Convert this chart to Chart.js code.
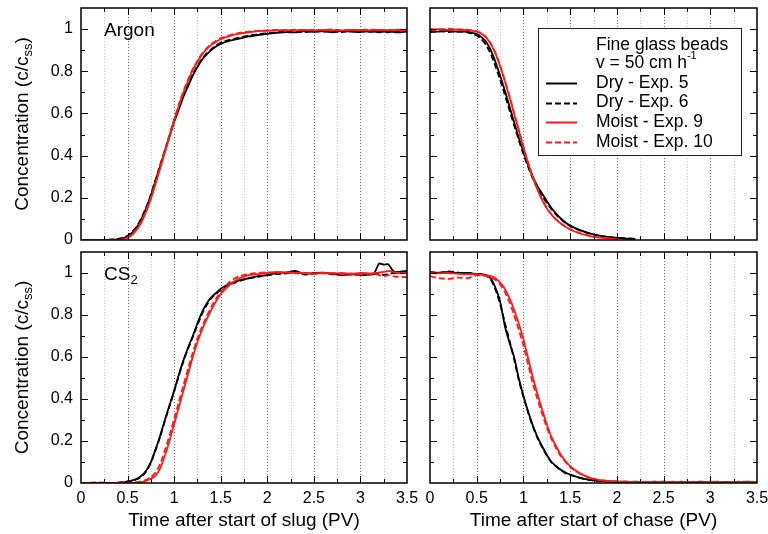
<html>
  <head>
    <title>Breakthrough curves</title>
  </head>
  <body>
    <div class="figure">
      <canvas id="chart-argon-slug" width="420" height="248"></canvas>
      <canvas id="chart-argon-chase" width="348" height="248"></canvas>
      <canvas id="chart-cs2-slug" width="420" height="286"></canvas>
      <canvas id="chart-cs2-chase" width="348" height="286"></canvas>
    </div>

    <style>
      body {
        margin: 0;
        background: #fff;
      }

      .figure {
        position: relative;
        width: 768px;
        height: 534px;
      }

      .figure canvas {
        position: absolute;
      }

      #chart-argon-slug { left: 0; top: 0; }
      #chart-argon-chase { left: 420px; top: 0; }
      #chart-cs2-slug { left: 0; top: 248px; }
      #chart-cs2-chase { left: 420px; top: 248px; }
    </style>

    <script src="https://cdn.jsdelivr.net/npm/chart.js@4"></script>
    <script type="text/javascript">
      const FONT = '"Liberation Sans", Arial, Helvetica, sans-serif';

      const xTicks = [0, 0.5, 1, 1.5, 2, 2.5, 3, 3.5];
      const xMinor = [0.25, 0.5, 0.75, 1, 1.25, 1.5, 1.75, 2, 2.25, 2.5, 2.75, 3, 3.25];
      const yTicks = [0, 0.2, 0.4, 0.6, 0.8, 1];
      const yMinor = [0.1, 0.2, 0.3, 0.4, 0.5, 0.6, 0.7, 0.8, 0.9, 1];

      const seriesNames = ['Dry - Exp. 5', 'Dry - Exp. 6', 'Moist - Exp. 9', 'Moist - Exp. 10'];
      const seriesColors = ['#000000', '#000000', '#ff1a1a', '#ff1a1a'];
      const seriesDash = [[], [6, 3], [], [6, 3]];

      // time in pore volumes
      const timeX = [0, 0.1, 0.2, 0.3, 0.4, 0.45, 0.5, 0.55, 0.6, 0.65, 0.7, 0.75, 0.8, 0.85, 0.9, 0.95,
        1, 1.05, 1.1, 1.15, 1.2, 1.25, 1.3, 1.35, 1.4, 1.45, 1.5,
        1.6, 1.7, 1.8, 1.9, 2, 2.1, 2.2, 2.3, 2.4, 2.5, 2.6, 2.7, 2.8, 2.9, 3, 3.1, 3.2, 3.3, 3.4, 3.5];
      const cs2SlugX = [0, 0.1, 0.2, 0.3, 0.4, 0.45, 0.5, 0.55, 0.6, 0.65, 0.7, 0.75, 0.8, 0.85, 0.9, 0.95,
        1, 1.05, 1.1, 1.15, 1.2, 1.25, 1.3, 1.35, 1.4, 1.45, 1.5,
        1.6, 1.7, 1.8, 1.9, 2, 2.1, 2.2, 2.3, 2.4, 2.5, 2.6, 2.7, 2.8, 2.9, 3, 3.1,
        3.15, 3.2, 3.25, 3.3, 3.35, 3.4, 3.5];

      // Argon, slug
      const argonSlugDry5 = [0, 0, 0, 0, 0.003, 0.008, 0.018, 0.035, 0.06, 0.1, 0.15, 0.21, 0.28, 0.35, 0.42, 0.49,
        0.56, 0.62, 0.68, 0.73, 0.78, 0.82, 0.855, 0.88, 0.9, 0.917, 0.93,
        0.945, 0.955, 0.965, 0.972, 0.978, 0.982, 0.986, 0.984, 0.99, 0.987, 0.99, 0.985, 0.992, 0.988, 0.986, 0.991, 0.985, 0.99, 0.984, 0.99];
      const argonSlugDry6 = [0, 0, 0, 0.002, 0.005, 0.01, 0.02, 0.038, 0.065, 0.105, 0.155, 0.215, 0.285, 0.355, 0.425, 0.495,
        0.565, 0.625, 0.685, 0.735, 0.785, 0.825, 0.86, 0.885, 0.905, 0.922, 0.936,
        0.95, 0.96, 0.969, 0.976, 0.98, 0.985, 0.988, 0.99, 0.986, 0.991, 0.988, 0.99, 0.986, 0.99, 0.992, 0.987, 0.99, 0.985, 0.99, 0.988];
      const argonSlugMoist9 = [0, 0, 0, 0, 0, 0.003, 0.01, 0.025, 0.05, 0.085, 0.135, 0.195, 0.265, 0.34, 0.415, 0.49,
        0.565, 0.635, 0.7, 0.755, 0.805, 0.845, 0.88, 0.905, 0.925, 0.94, 0.952,
        0.968, 0.978, 0.985, 0.99, 0.992, 0.994, 0.995, 0.993, 0.996, 0.994, 0.996, 0.995, 0.993, 0.996, 0.995, 0.994, 0.996, 0.995, 0.997, 0.995];
      const argonSlugMoist10 = [0, 0, 0, 0, 0.001, 0.004, 0.012, 0.028, 0.054, 0.09, 0.14, 0.2, 0.272, 0.348, 0.423, 0.498,
        0.572, 0.642, 0.706, 0.762, 0.81, 0.85, 0.884, 0.91, 0.93, 0.945, 0.957,
        0.972, 0.982, 0.988, 0.992, 0.994, 0.996, 0.995, 0.997, 0.995, 0.997, 0.996, 0.998, 0.995, 0.997, 0.996, 0.998, 0.996, 0.997, 0.995, 0.998];

      // Argon, chase
      const argonChaseDry5 = [0.99, 0.988, 0.992, 0.987, 0.988, 0.982, 0.976, 0.962, 0.94, 0.9, 0.845, 0.78, 0.71, 0.635, 0.56, 0.485,
        0.42, 0.355, 0.3, 0.255, 0.22, 0.185, 0.152, 0.125, 0.102, 0.083, 0.068,
        0.048, 0.033, 0.022, 0.015, 0.01, 0.007, 0.005];
      const argonChaseDry6 = [0.985, 0.99, 0.986, 0.99, 0.984, 0.978, 0.97, 0.952, 0.925, 0.882, 0.825, 0.76, 0.69, 0.617, 0.545, 0.474,
        0.408, 0.346, 0.292, 0.246, 0.21, 0.176, 0.146, 0.12, 0.099, 0.081, 0.066,
        0.046, 0.031, 0.021, 0.014, 0.01, 0.007, 0.005];
      const argonChaseMoist9 = [0.995, 1, 0.996, 0.998, 0.995, 0.992, 0.988, 0.978, 0.96, 0.93, 0.885, 0.825, 0.755, 0.68, 0.6, 0.52,
        0.44, 0.365, 0.298, 0.24, 0.19, 0.15, 0.12, 0.097, 0.078, 0.063, 0.05,
        0.032, 0.02, 0.012, 0.008, 0.005];
      const argonChaseMoist10 = [1, 0.998, 1.002, 0.997, 0.997, 0.994, 0.99, 0.98, 0.962, 0.932, 0.888, 0.828, 0.758, 0.682, 0.603, 0.522,
        0.442, 0.367, 0.3, 0.242, 0.193, 0.153, 0.122, 0.098, 0.079, 0.064, 0.051,
        0.033, 0.021, 0.012, 0.008, 0.005];

      // CS2, slug
      const cs2SlugDry5 = [0, 0, 0, 0, 0, 0.002, 0.008, 0.012, 0.02, 0.035, 0.06, 0.1, 0.16, 0.225, 0.3, 0.37,
        0.44, 0.515, 0.585, 0.645, 0.7, 0.76, 0.815, 0.855, 0.885, 0.905, 0.925,
        0.95, 0.965, 0.975, 0.985, 0.99, 1, 1.002, 1.01, 0.995, 1, 1.002, 0.996, 0.99, 0.995, 0.99, 0.992,
        1, 1.045, 1.04, 1.042, 1.01, 1.005, 1.01];
      const cs2SlugDry6 = [0, 0, 0, 0, 0.002, 0.004, 0.006, 0.01, 0.018, 0.03, 0.055, 0.095, 0.155, 0.22, 0.295, 0.365,
        0.435, 0.51, 0.58, 0.64, 0.695, 0.752, 0.805, 0.848, 0.88, 0.9, 0.92,
        0.945, 0.962, 0.974, 0.982, 0.99, 0.995, 0.998, 1.005, 0.992, 0.998, 1, 0.994, 0.996, 0.992, 0.995, 0.99,
        0.995, 0.998, 0.99, 0.995, 1, 0.998, 1.005];
      const cs2SlugMoist9 = [0, 0, 0, 0, 0, 0, 0, 0, 0, 0.003, 0.01, 0.02, 0.035, 0.07, 0.13, 0.2,
        0.28, 0.36, 0.44, 0.52, 0.6, 0.67, 0.73, 0.78, 0.825, 0.865, 0.9,
        0.945, 0.975, 0.99, 0.995, 1, 1.005, 1.002, 1, 1, 0.998, 1, 0.997, 1, 0.995, 1, 0.998,
        1, 1.002, 1.005, 1.01, 1.005, 1, 1];
      const cs2SlugMoist10 = [0, 0.002, 0.003, 0, 0, 0, 0, 0.002, 0.004, 0.008, 0.015, 0.028, 0.05, 0.09, 0.155, 0.225,
        0.305, 0.385, 0.465, 0.545, 0.62, 0.69, 0.745, 0.795, 0.84, 0.878, 0.91,
        0.96, 0.985, 0.995, 1, 1.003, 1, 1.005, 0.998, 1, 0.996, 0.998, 1, 0.995, 0.998, 0.993, 0.99,
        0.995, 0.99, 0.985, 0.99, 0.985, 0.982, 0.98];

      // CS2, chase
      const cs2ChaseDry5 = [1, 1.002, 1.005, 1, 1, 0.998, 0.996, 0.995, 0.99, 0.975, 0.93, 0.865, 0.75, 0.67, 0.6, 0.5,
        0.415, 0.34, 0.275, 0.22, 0.175, 0.135, 0.1, 0.08, 0.063, 0.05, 0.04,
        0.026, 0.016, 0.01, 0.007, 0.006, 0.005, 0.006, 0.004, 0.005, 0.006, 0.004, 0.005, 0.004, 0.006, 0.004, 0.005, 0.004, 0.005, 0.006, 0.005];
      const cs2ChaseDry6 = [1.005, 1, 1.008, 1.002, 0.998, 1, 0.995, 0.994, 0.988, 0.97, 0.922, 0.855, 0.765, 0.68, 0.59, 0.49,
        0.41, 0.335, 0.27, 0.215, 0.17, 0.13, 0.098, 0.078, 0.06, 0.047, 0.038,
        0.024, 0.015, 0.009, 0.007, 0.005, 0.006, 0.005, 0.004, 0.006, 0.005, 0.004, 0.006, 0.005, 0.004, 0.005, 0.006, 0.004, 0.005, 0.004, 0.005];
      const cs2ChaseMoist9 = [1, 0.998, 1, 0.996, 0.995, 0.995, 0.994, 0.992, 0.99, 0.985, 0.975, 0.955, 0.925, 0.88, 0.825, 0.76,
        0.685, 0.595, 0.505, 0.425, 0.35, 0.28, 0.22, 0.175, 0.135, 0.105, 0.08,
        0.047, 0.027, 0.015, 0.01, 0.008, 0.006, 0.005, 0.006, 0.004, 0.005, 0.006, 0.004, 0.005, 0.004, 0.006, 0.005, 0.004, 0.005, 0.004, 0.005];
      const cs2ChaseMoist10 = [0.985, 0.975, 0.972, 0.978, 0.975, 0.982, 0.99, 0.988, 0.985, 0.98, 0.968, 0.945, 0.91, 0.862, 0.8, 0.73,
        0.655, 0.565, 0.475, 0.4, 0.33, 0.265, 0.21, 0.165, 0.128, 0.1, 0.076,
        0.045, 0.026, 0.015, 0.01, 0.007, 0.006, 0.005, 0.004, 0.006, 0.005, 0.004, 0.005, 0.006, 0.004, 0.005, 0.004, 0.005, 0.006, 0.004, 0.005];

      function drawRich(ctx, parts, x, y, align) {
        let width = 0;
        for (const p of parts) {
          ctx.font = `${p.size}px ${FONT}`;
          width += ctx.measureText(p.text).width;
        }
        let cx = align === 'center' ? x - width / 2 : x;
        for (const p of parts) {
          ctx.font = `${p.size}px ${FONT}`;
          ctx.fillText(p.text, cx, y + (p.dy || 0));
          cx += ctx.measureText(p.text).width;
        }
      }

      const panelPlugin = {
        id: 'panel',
        beforeDatasetsDraw(chart) {
          const { ctx, chartArea: a, scales: { x } } = chart;
          ctx.save();
          ctx.lineWidth = 1;
          ctx.setLineDash([1, 2]);
          for (const v of xMinor) {
            const px = Math.round(x.getPixelForValue(v)) + 0.5;
            ctx.strokeStyle = v % 0.5 === 0 ? '#6e6e6e' : '#c2c2c2';
            ctx.beginPath();
            ctx.moveTo(px, a.top);
            ctx.lineTo(px, a.bottom);
            ctx.stroke();
          }
          ctx.restore();
        },
        afterDatasetsDraw(chart, args, opts) {
          const { ctx, chartArea: a, scales: { x, y } } = chart;
          ctx.save();
          ctx.strokeStyle = '#000';
          ctx.fillStyle = '#000';
          ctx.lineWidth = 1;

          // inward ticks on all four sides
          ctx.beginPath();
          for (const v of xMinor) {
            const len = v % 0.5 === 0 ? 7 : 4;
            const px = Math.round(x.getPixelForValue(v)) + 0.5;
            ctx.moveTo(px, a.bottom);
            ctx.lineTo(px, a.bottom - len);
            ctx.moveTo(px, a.top);
            ctx.lineTo(px, a.top + len);
          }
          for (const v of yMinor) {
            const len = Math.round(v * 10) % 2 === 0 ? 7 : 4;
            const py = Math.round(y.getPixelForValue(v)) + 0.5;
            ctx.moveTo(a.left, py);
            ctx.lineTo(a.left + len, py);
            ctx.moveTo(a.right, py);
            ctx.lineTo(a.right - len, py);
          }
          ctx.stroke();

          ctx.lineWidth = 1.5;
          ctx.strokeRect(a.left, a.top, a.right - a.left, a.bottom - a.top);

          ctx.textBaseline = 'middle';
          if (opts.label) {
            drawRich(ctx, opts.label, a.left + 23, a.top + 23, 'left');
          }

          if (opts.yTitle) {
            ctx.save();
            ctx.translate(23, (a.top + a.bottom) / 2);
            ctx.rotate(-Math.PI / 2);
            drawRich(ctx, [
              { text: 'Concentration (c/c', size: 19 },
              { text: 'ss', size: 13, dy: 5 },
              { text: ')', size: 19 },
            ], 0, 0, 'center');
            ctx.restore();
          }

          if (opts.legend) {
            const bx = a.left + 108;
            const by = a.top + 20;
            ctx.lineWidth = 1;
            ctx.strokeStyle = '#222';
            ctx.fillStyle = '#fff';
            ctx.fillRect(bx, by, 203, 127);
            ctx.strokeRect(bx + 0.5, by + 0.5, 203, 127);
            ctx.fillStyle = '#000';
            const tx = bx + 58;
            drawRich(ctx, [{ text: 'Fine glass beads', size: 17.5 }], tx, by + 17, 'left');
            drawRich(ctx, [
              { text: 'v = 50 cm h', size: 17.5 },
              { text: '-1', size: 11, dy: -7 },
            ], tx, by + 35, 'left');
            chart.data.datasets.forEach((ds, i) => {
              const ly = by + 55 + i * 19.6;
              ctx.strokeStyle = ds.borderColor;
              ctx.lineWidth = 2;
              ctx.setLineDash(ds.borderDash);
              ctx.beginPath();
              ctx.moveTo(bx + 8, Math.round(ly) + 0.5);
              ctx.lineTo(bx + 39, Math.round(ly) + 0.5);
              ctx.stroke();
              ctx.setLineDash([]);
              drawRich(ctx, [{ text: ds.label, size: 17.5 }], tx, ly, 'left');
            });
          }
          ctx.restore();
        },
      };

      function makeChart(id, xs, series, panel) {
        const left = panel.yTitle;
        return new Chart(document.getElementById(id), {
          type: 'line',
          data: {
            datasets: series.map((ys, i) => ({
              label: seriesNames[i],
              data: ys.map((v, k) => ({ x: xs[k], y: v })),
              borderColor: seriesColors[i],
              borderDash: seriesDash[i],
              borderWidth: 1.8,
              pointRadius: 0,
              tension: 0.2,
              fill: false,
              order: i < 2 ? 1 : 0,
            })),
          },
          options: {
            responsive: false,
            animation: false,
            layout: {
              padding: {
                top: panel.bottom ? 4 : 8,
                right: left ? 13 : 11,
                bottom: panel.bottom ? 0 : 8,
                left: 0,
              },
            },
            plugins: {
              legend: { display: false },
              tooltip: { enabled: false },
              panel,
            },
            scales: {
              x: {
                type: 'linear',
                min: 0,
                max: 3.5,
                grid: { display: false, drawTicks: false },
                border: { display: false },
                afterBuildTicks: (s) => {
                  s.ticks = xTicks.map((v) => ({ value: v }));
                },
                ticks: {
                  display: !!panel.bottom,
                  autoSkip: false,
                  maxRotation: 0,
                  padding: 6,
                  color: '#000',
                  font: { family: FONT, size: 16 },
                  callback: (v) => String(v),
                },
                title: {
                  display: !!panel.bottom,
                  text: panel.xTitle || '',
                  color: '#000',
                  font: { family: FONT, size: 19 },
                  padding: { top: 0, bottom: 2 },
                },
                afterFit: (s) => {
                  s.height = panel.bottom ? 51 : 0;
                  s.paddingLeft = 0;
                  s.paddingRight = 0;
                },
              },
              y: {
                min: 0,
                max: 1.1,
                grid: { display: false, drawTicks: false },
                border: { display: false },
                afterBuildTicks: (s) => {
                  s.ticks = yTicks.map((v) => ({ value: v }));
                },
                ticks: {
                  display: left,
                  padding: 8,
                  color: '#000',
                  font: { family: FONT, size: 16 },
                  callback: (v) => String(v),
                },
                afterFit: (s) => {
                  s.width = left ? 81 : 10;
                  s.paddingTop = 0;
                  s.paddingBottom = 0;
                },
              },
            },
          },
          plugins: [panelPlugin],
        });
      }

      makeChart('chart-argon-slug', timeX,
        [argonSlugDry5, argonSlugDry6, argonSlugMoist9, argonSlugMoist10],
        { yTitle: true, label: [{ text: 'Argon', size: 19 }] });
      makeChart('chart-argon-chase', timeX,
        [argonChaseDry5, argonChaseDry6, argonChaseMoist9, argonChaseMoist10],
        { yTitle: false, legend: true });
      makeChart('chart-cs2-slug', cs2SlugX,
        [cs2SlugDry5, cs2SlugDry6, cs2SlugMoist9, cs2SlugMoist10],
        { yTitle: true, bottom: true, xTitle: 'Time after start of slug (PV)',
          label: [{ text: 'CS', size: 19 }, { text: '2', size: 13, dy: 5 }] });
      makeChart('chart-cs2-chase', timeX,
        [cs2ChaseDry5, cs2ChaseDry6, cs2ChaseMoist9, cs2ChaseMoist10],
        { yTitle: false, bottom: true, xTitle: 'Time after start of chase (PV)' });
    </script>
  </body>
</html>
